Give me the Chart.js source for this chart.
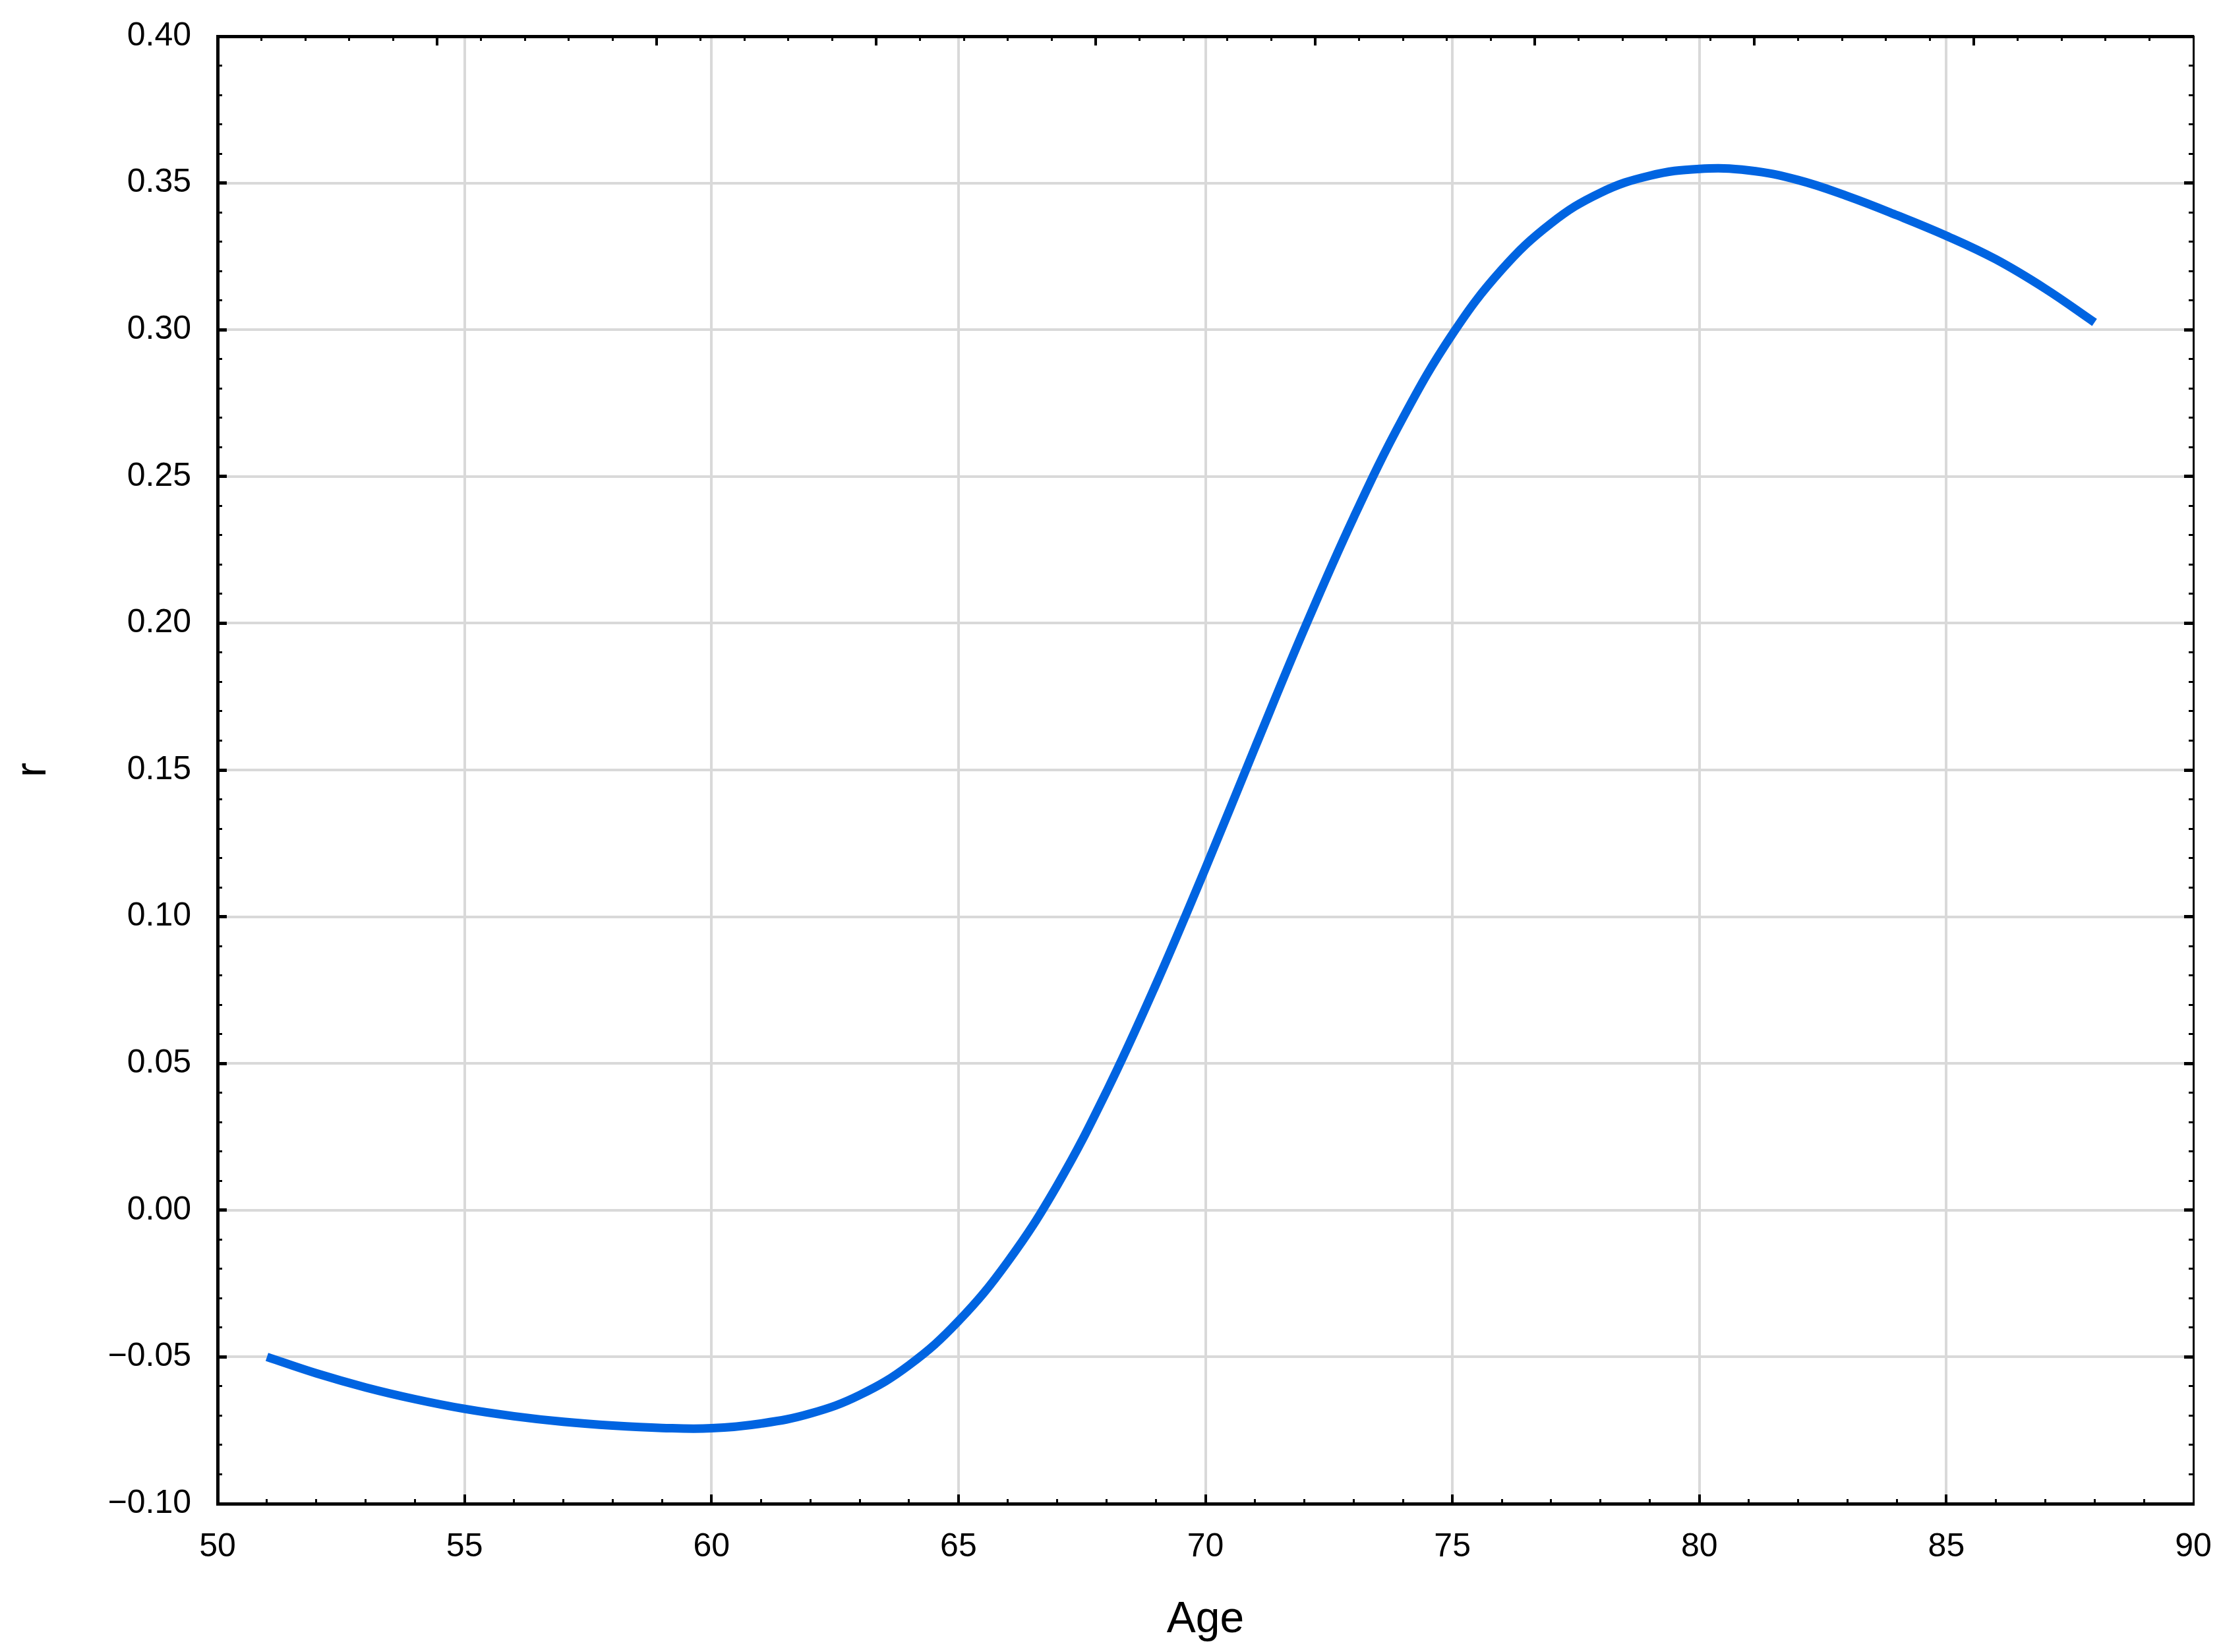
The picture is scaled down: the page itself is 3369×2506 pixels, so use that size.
<!DOCTYPE html>
<html>
<head>
<meta charset="utf-8">
<script src="https://cdn.jsdelivr.net/npm/chart.js@4.4.1/dist/chart.umd.min.js"></script>
<style>
  html, body { margin: 0; padding: 0; background: #ffffff; }
  #wrap { width: 3369px; height: 2506px; position: relative; }
</style>
</head>
<body>
<div id="wrap"><canvas id="c"></canvas></div>
<script>
// ---- Data ----
const ages = [51, 52, 53, 54, 55, 56, 57, 58, 59, 60,
              61, 62, 63, 64, 65, 66, 67, 68, 69, 70,
              71, 72, 73, 74, 75, 76, 77, 78, 79, 80,
              81, 82, 83, 84, 85, 86, 87, 88];
const rValues = [-0.0500, -0.0556, -0.0604, -0.0644, -0.0677, -0.0702, -0.0721, -0.0734, -0.0742, -0.0743,
                 -0.0727, -0.0693, -0.0630, -0.0528, -0.0378, -0.0175, 0.0085, 0.0405, 0.0770, 0.1165,
                 0.1575, 0.1980, 0.2360, 0.2700, 0.2985, 0.3205, 0.3363, 0.3467, 0.3525, 0.3548,
                 0.3543, 0.3510, 0.3455, 0.3390, 0.3320, 0.3240, 0.3140, 0.3025];
const xTickValues = [50, 55, 60, 65, 70, 75, 80, 85, 90];
const yTickValues = [-0.10, -0.05, 0.00, 0.05, 0.10, 0.15, 0.20, 0.25, 0.30, 0.35, 0.40];
const xTitle = 'Age';
const yTitle = 'r';

const FONT = '"Liberation Sans", Arial, Helvetica, sans-serif';
const GRID = '#d9d9d9';

const points = ages.map((a, i) => ({ x: a, y: rValues[i] }));

function fmtY(v) {
  const s = Math.abs(v) < 1e-9 ? '0.00' : Math.abs(v).toFixed(2);
  return (v < -1e-9 ? '\u2212' : '') + s;
}
function noPad(s) { s.paddingLeft = 0; s.paddingRight = 0; s.paddingTop = 0; s.paddingBottom = 0; }

// Inward tick marks on all four sides (Statistica-style frame)
const frameTicks = {
  id: 'frameTicks',
  afterDraw(chart) {
    const { ctx, chartArea: ca, scales } = chart;
    const x = scales.x, y = scales.y, x2 = scales.x2;
    ctx.save();
    ctx.fillStyle = '#000';
    for (let v = Math.round(x.min) + 1; v < x.max; v++) {
      const major = v % 5 === 0;
      const px = x.getPixelForValue(v);
      const w = major ? 4 : 3, len = major ? 14 : 7;
      ctx.fillRect(Math.round(px - w / 2), ca.bottom - len, w, len);
    }
    for (let v = x2.min + 1; v < x2.max; v++) {
      const major = v % 5 === 0;
      const px = x2.getPixelForValue(v);
      const w = major ? 4 : 3, len = major ? 14 : 7;
      ctx.fillRect(Math.round(px - w / 2), ca.top, w, len);
    }
    const n = Math.round((y.max - y.min) / 0.01);
    for (let i = 1; i < n; i++) {
      const v = y.min + i * 0.01;
      const major = i % 5 === 0;
      const py = y.getPixelForValue(v);
      const h = major ? 5 : 3, len = major ? 14 : 7;
      ctx.fillRect(ca.left, Math.round(py - h / 2), len, h);
      ctx.fillRect(ca.right - len, Math.round(py - h / 2), len, h);
    }
    ctx.restore();
  }
};

new Chart(document.getElementById('c'), {
  type: 'line',
  data: {
    datasets: [{
      data: points,
      borderColor: '#0064e1',
      borderWidth: 13,
      pointRadius: 0,
      fill: false,
      tension: 0.4,
      borderCapStyle: 'butt'
    }]
  },
  options: {
    responsive: true,
    maintainAspectRatio: false,
    animation: false,
    devicePixelRatio: 1,
    layout: { padding: { top: 55, right: 42, left: 0, bottom: 0 } },
    plugins: { legend: { display: false }, tooltip: { enabled: false } },
    scales: {
      x: {
        type: 'linear',
        position: 'bottom',
        min: 50, max: 90,
        afterBuildTicks: (s) => { s.ticks = xTickValues.map(v => ({ value: v })); },
        afterFit: (s) => { s.height = 225; noPad(s); },
        ticks: {
          color: '#000',
          padding: 36,
          maxRotation: 0,
          font: { family: FONT, size: 50 },
          callback: (v) => String(v)
        },
        grid: {
          drawTicks: false,
          lineWidth: 4,
          color: (c) => (c.tick && (c.tick.value === 50 || c.tick.value === 90)) ? 'rgba(0,0,0,0)' : GRID
        },
        border: { display: true, color: '#000', width: 5 },
        title: {
          display: true, text: xTitle, color: '#000',
          font: { family: FONT, size: 66 },
          padding: { top: 0, bottom: 9 }
        }
      },
      x2: {
        type: 'linear',
        position: 'top',
        min: 0, max: 45,
        afterFit: (s) => { s.height = 0; noPad(s); },
        ticks: { display: false },
        grid: { drawOnChartArea: false, drawTicks: false },
        border: { display: true, color: '#000', width: 5 }
      },
      y: {
        type: 'linear',
        position: 'left',
        min: -0.10, max: 0.40,
        afterBuildTicks: (s) => { s.ticks = yTickValues.map(v => ({ value: v })); },
        afterFit: (s) => { s.width = 330; noPad(s); },
        ticks: {
          color: '#000',
          padding: 40,
          font: { family: FONT, size: 50 },
          callback: (v) => fmtY(v)
        },
        grid: {
          drawTicks: false,
          lineWidth: 4,
          color: (c) => (c.tick && (Math.abs(c.tick.value + 0.10) < 1e-9 || Math.abs(c.tick.value - 0.40) < 1e-9)) ? 'rgba(0,0,0,0)' : GRID
        },
        border: { display: true, color: '#000', width: 5 },
        title: {
          display: true, text: yTitle, color: '#000',
          font: { family: FONT, size: 66 },
          padding: { top: 11, bottom: 0 }
        }
      },
      y2: {
        type: 'linear',
        position: 'right',
        min: -0.10, max: 0.40,
        afterFit: (s) => { s.width = 0; noPad(s); },
        ticks: { display: false },
        grid: { drawOnChartArea: false, drawTicks: false },
        border: { display: true, color: '#000', width: 3 }
      }
    }
  },
  plugins: [frameTicks]
});
</script>
</body>
</html>
